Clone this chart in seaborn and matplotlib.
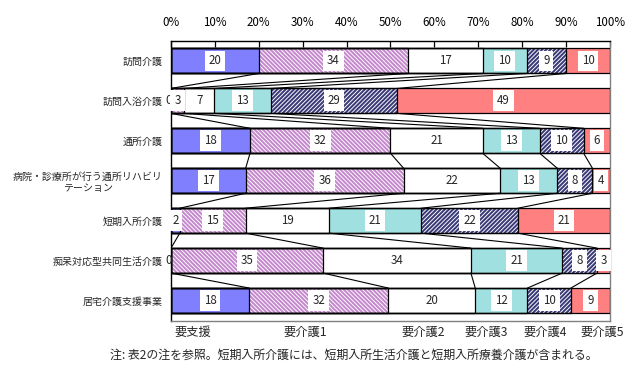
import numpy as np
import pandas as pd
import matplotlib
matplotlib.use("Agg")
import matplotlib.pyplot as plt
from matplotlib.patches import Rectangle
import seaborn as sns

# ---------------- data ----------------
categories = ["訪問介護", "訪問入浴介護", "通所介護",
              "病院・診療所が行う通所リハビリ\nテーション",
              "短期入所介護", "痴呆対応型共同生活介護", "居宅介護支援事業"]
levels = ["要支援", "要介護1", "要介護2", "要介護3", "要介護4", "要介護5"]
yoshien = [20, 0, 18, 17, 2, 0, 18]
kaigo1 = [34, 3, 32, 36, 15, 35, 32]
kaigo2 = [17, 7, 21, 22, 19, 34, 20]
kaigo3 = [10, 13, 13, 13, 21, 21, 12]
kaigo4 = [9, 29, 10, 8, 22, 8, 10]
kaigo5 = [10, 49, 6, 4, 21, 3, 9]
xtick_values = [0, 10, 20, 30, 40, 50, 60, 70, 80, 90, 100]
xtick_labels = ["0%", "10%", "20%", "30%", "40%", "50%", "60%", "70%", "80%", "90%", "100%"]
footnote = "注: 表2の注を参照。短期入所介護には、短期入所生活介護と短期入所療養介護が含まれる。"

# ---------------- style ----------------
sns.set_style("white")
plt.rcParams["font.family"] = ["Noto Sans CJK JP", "DejaVu Sans"]
plt.rcParams["hatch.linewidth"] = 1.45

facecolors = ["#8080FF", "#FFFFFF", "#FFFFFF", "#A0E0E0", "#FFFFFF", "#FF8080"]
hatches = [None, "\\" * 8, None, None, "/" * 8, None]
hatchcolors = [None, "#C488CC", None, None, "#3A3A78", None]
boxed = [True, True, False, True, True, True]

vals = np.array([yoshien, kaigo1, kaigo2, kaigo3, kaigo4, kaigo5], dtype=float).T
pct = vals / vals.sum(axis=1, keepdims=True) * 100
cum = np.cumsum(pct, axis=1)
starts = cum - pct

fig = plt.figure(figsize=(6.44, 3.68), dpi=100)
ax = fig.add_axes([171 / 644, 1 - 320.5 / 368, 439 / 644, 279.5 / 368])

bar_w = 0.625
# stacked bars via overlapping cumulative bars (drawn from the largest total down)
for k in reversed(range(6)):
    n0 = len(ax.patches)
    df = pd.DataFrame({"cat": categories, "x": cum[:, k]})
    sns.barplot(data=df, x="x", y="cat", orient="h", color=facecolors[k],
                saturation=1, width=bar_w, errorbar=None, ax=ax, linewidth=0)
    for p in ax.patches[n0:]:
        p.set_linewidth(0)
        if hatches[k]:
            p.set_facecolor("white")
            p.set_edgecolor(hatchcolors[k])
            p.set_hatch(hatches[k])
        ax.add_patch(Rectangle(p.get_xy(), p.get_width(), p.get_height(),
                               fill=False, edgecolor="black", linewidth=0.9, zorder=3))

# series lines between bars
for i in range(len(categories) - 1):
    for k in range(5):
        ax.plot([cum[i, k], cum[i + 1, k]], [i + bar_w / 2, i + 1 - bar_w / 2],
                color="black", linewidth=0.8, zorder=3)

# value labels
for i in range(len(categories)):
    for k in range(6):
        xc = starts[i, k] + pct[i, k] / 2
        kw = {}
        if vals[i, k] == 0:
            xc -= 0.5
        elif boxed[k]:
            kw["bbox"] = dict(boxstyle="square,pad=0.34", facecolor="white", edgecolor="none")
        ax.text(xc, i, f"{int(vals[i, k])}", ha="center", va="center",
                fontsize=8.3, zorder=4, clip_on=False, **kw)

# axes
ax.set_xlim(0, 100)
ax.set_ylim(len(categories) - 0.5, -0.5)
ax.set_xlabel("")
ax.set_ylabel("")
ax.xaxis.tick_top()
ax.set_xticks(xtick_values)
ax.set_xticklabels(xtick_labels, fontsize=8.3)
ax.tick_params(axis="x", direction="in", length=4, width=0.9, pad=9, colors="black")
ax.set_yticks(range(len(categories)))
ax.set_yticklabels(categories, fontsize=7.2)
for t in ax.get_yticklabels():
    t.set_multialignment("center")
ax.tick_params(axis="y", which="major", length=0, pad=6)
ax.set_yticks(np.arange(0.5, len(categories) - 1, 1), minor=True)
ax.tick_params(axis="y", which="minor", direction="in", length=3, width=0.9, color="black")
ax.grid(False)
for side in ["left", "top"]:
    ax.spines[side].set_color("black")
    ax.spines[side].set_linewidth(1.0)
for side in ["right", "bottom"]:
    ax.spines[side].set_color("#808080")
    ax.spines[side].set_linewidth(1.0)

# level labels under the chart
level_x = [193, 305, 423, 486, 545, 602]
for lab, x in zip(levels, level_x):
    fig.text(x / 644, 1 - 332 / 368, lab, ha="center", va="center", fontsize=8.8)

fig.text(598 / 644, 1 - 355 / 368, footnote, ha="right", va="center", fontsize=8.6)

fig.savefig("out.png", dpi=100)
